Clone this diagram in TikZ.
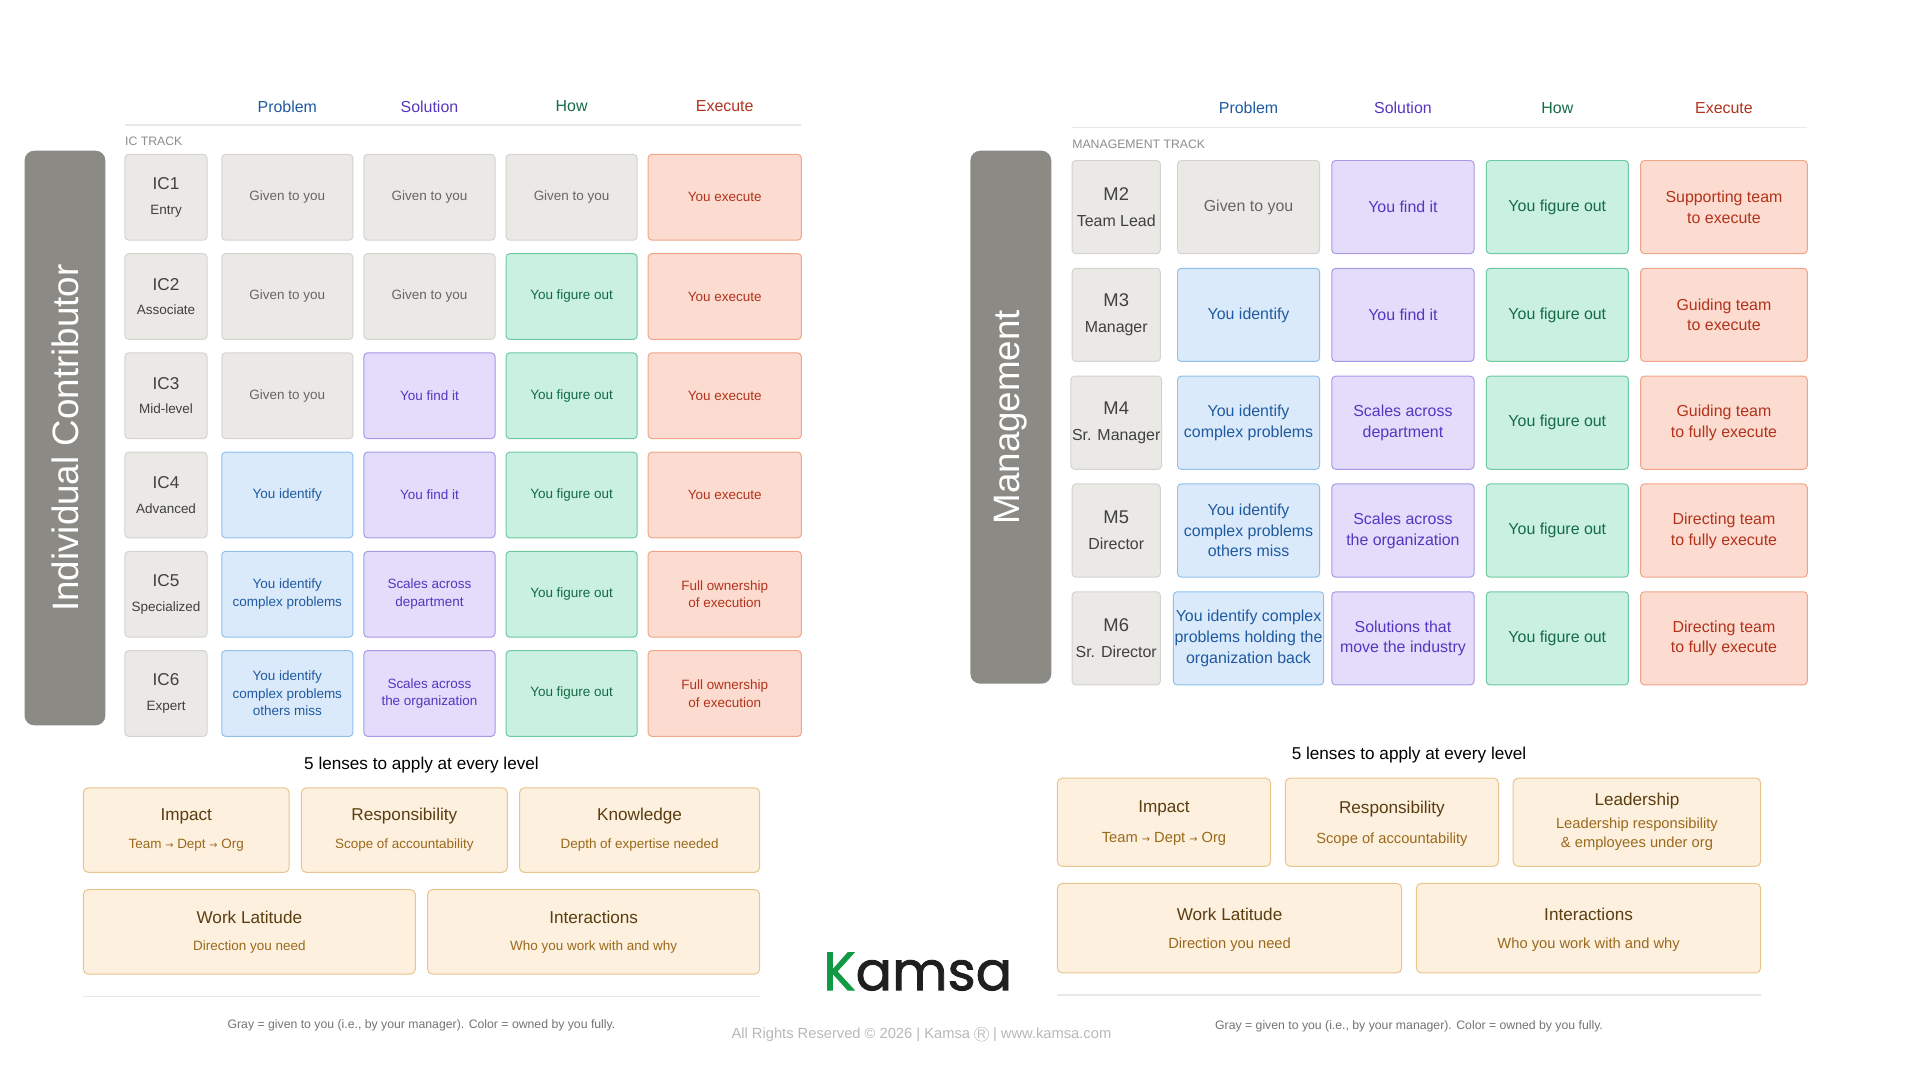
\documentclass[tikz,border=0pt]{standalone}
\usepackage{fontspec}
\setmainfont{Liberation Sans}
\newfontfamily\logofont{Poppins}[FakeBold=1.5]
\newfontfamily\symfont{DejaVu Sans}
\usetikzlibrary{positioning}
\definecolor{barC}{HTML}{8B8A85}
\definecolor{gFill}{HTML}{EBE9E5}\definecolor{gLine}{HTML}{D5D3CF}\definecolor{gText}{HTML}{666666}
\definecolor{bFill}{HTML}{DBEAFB}\definecolor{bLine}{HTML}{8FC0EC}\definecolor{bText}{HTML}{1F5AA0}
\definecolor{pFill}{HTML}{E3DCFB}\definecolor{pLine}{HTML}{A898E6}\definecolor{pText}{HTML}{5536C0}
\definecolor{tFill}{HTML}{C9F0E0}\definecolor{tLine}{HTML}{6CC9A0}\definecolor{tText}{HTML}{146B45}
\definecolor{rFill}{HTML}{FCDCD0}\definecolor{rLine}{HTML}{F0A488}\definecolor{rText}{HTML}{B3321C}
\definecolor{lFill}{HTML}{FDF0DF}\definecolor{lLine}{HTML}{E8C48F}\definecolor{lHead}{HTML}{5A3D10}\definecolor{lSub}{HTML}{9A6A1C}
\newcommand{\fs}[1]{\fontsize{#1}{\the\dimexpr #1pt*13/10\relax}\selectfont}
\newcommand{\arr}{{\symfont\fs{8}→}}
\tikzset{
  cell/.style={draw, rounded corners=3pt, align=center, inner sep=1pt, line width=0.8pt},
  G/.style={cell, fill=gFill, draw=gLine, text=gText},
  B/.style={cell, fill=bFill, draw=bLine, text=bText},
  P/.style={cell, fill=pFill, draw=pLine, text=pText},
  T/.style={cell, fill=tFill, draw=tLine, text=tText},
  R/.style={cell, fill=rFill, draw=rLine, text=rText},
  lvl/.style={cell, fill=gFill, draw=gLine, text=black!75},
  bar/.style={fill=barC, rounded corners=8pt},
  lens/.style={draw=lLine, fill=lFill, rounded corners=4pt, line width=0.8pt},
  head/.style={font=\fs{13}},
  track/.style={font=\fs{10}, text=black!45, anchor=west, inner sep=0pt},
  note/.style={font=\fs{10}, text=black!55}
}
\begin{document}
\begin{tikzpicture}[x=1pt,y=-1pt]
\useasboundingbox (0,0) rectangle (1567,882);
% ---- IC side
\node[head, text=bText] (icP) at (234.5,87) {Problem};
\node[head, text=pText] (icS) at (350.5,87) {Solution};
\node[head, text=tText] (icH) at (466.5,87) {How};
\node[head, text=rText] (icE) at (591.5,87) {Execute};
\draw[gFill, line width=1pt] (102,102) -- (654,102);
\node[track] (icT) at (102,115) {IC TRACK};
\fill[bar] (20,123) rectangle (86,592);
\node[rotate=90, text=white, font=\fs{30}] (icBar) at (53,357.5) {Individual Contributor};
\foreach \i/\sub/\sa/\ta/\sb/\tb/\sc/\tc/\sd/\td in {
 1/Entry/G/Given to you/G/Given to you/G/Given to you/R/You execute,
 2/Associate/G/Given to you/G/Given to you/T/You figure out/R/You execute,
 3/Mid-level/G/Given to you/P/You find it/T/You figure out/R/You execute,
 4/Advanced/B/You identify/P/You find it/T/You figure out/R/You execute,
 5/Specialized/B/You identify\\complex problems/P/Scales across\\department/T/You figure out/R/Full ownership\\of execution,
 6/Expert/B/You identify\\complex problems\\others miss/P/Scales across\\the organization/T/You figure out/R/Full ownership\\of execution}{
  \pgfmathsetmacro\yc{161+81*(\i-1)}
  \node[lvl, minimum width=67pt, minimum height=70pt] (ic\i) at (135.5,\yc) {{\fs{14}IC\i}\\[8pt]{\fs{11}\sub}};
  \node[\sa, minimum width=107pt, minimum height=70pt, font=\fs{11}] (ic\i a) at (234.5,\yc) {\ta};
  \node[\sb, minimum width=107pt, minimum height=70pt, font=\fs{11}] (ic\i b) at (350.5,\yc) {\tb};
  \node[\sc, minimum width=107pt, minimum height=70pt, font=\fs{11}] (ic\i c) at (466.5,\yc) {\tc};
  \node[\sd, minimum width=125pt, minimum height=70pt, font=\fs{11}] (ic\i d) at (591.5,\yc) {\td};
}
\node[font=\fs{14}] (icLT) at (344,624) {5 lenses to apply at every level};
\foreach \n/\xa/\xb/\ya/\yb/\h/\s in {
 1/68/236/643/712/Impact/Team \arr{} Dept \arr{} Org,
 2/246/414/643/712/Responsibility/Scope of accountability,
 3/424/620/643/712/Knowledge/Depth of expertise needed,
 4/68/339/726/795/Work Latitude/Direction you need,
 5/349/620/726/795/Interactions/Who you work with and why}{
  \draw[lens] (\xa,\ya) rectangle (\xb,\yb);
  \node[text=lHead, font=\fs{14}] (icL\n) at ({(\xa+\xb)/2},{\ya+23}) {\h};
  \node[text=lSub, font=\fs{11}] (icS\n) at ({(\xa+\xb)/2},{\ya+47}) {\s};
}
\draw[gFill, line width=1pt] (68,813) -- (620,813);
\node[note] (icN) at (344,837) {Gray = given to you (i.e., by your manager). Color = owned by you fully.};
% ---- Management side
\node[head, text=bText] (mP) at (1019,88) {Problem};
\node[head, text=pText] (mS) at (1145,88) {Solution};
\node[head, text=tText] (mH) at (1271,88) {How};
\node[head, text=rText] (mE) at (1407,88) {Execute};
\draw[gFill, line width=1pt] (875,104) -- (1475,104);
\node[track] (mT) at (875,118) {MANAGEMENT TRACK};
\fill[bar] (792,123) rectangle (858,558);
\node[rotate=90, text=white, font=\fs{30}] (mBar) at (825,340.5) {Management};
\foreach \i/\sub/\sa/\ta/\sb/\tb/\sc/\tc/\sd/\td in {
 2/Team Lead/G/Given to you/P/You find it/T/You figure out/R/Supporting team\\to execute,
 3/Manager/B/You identify/P/You find it/T/You figure out/R/Guiding team\\to execute,
 4/Sr. Manager/B/You identify\\complex problems/P/Scales across\\department/T/You figure out/R/Guiding team\\to fully execute,
 5/Director/B/You identify\\complex problems\\others miss/P/Scales across\\the organization/T/You figure out/R/Directing team\\to fully execute,
 6/Sr. Director/B/You identify complex\\problems holding the\\organization back/P/Solutions that\\move the industry/T/You figure out/R/Directing team\\to fully execute}{
  \pgfmathsetmacro\yc{169+88*(\i-2)}
  \node[lvl, minimum width=72pt, minimum height=76pt] (m\i) at (911,\yc) {{\fs{15}M\i}\\[9pt]{\fs{13}\sub}};
  \node[\sa, minimum width=116pt, minimum height=76pt, font=\fs{13}] (m\i a) at (1019,\yc) {\ta};
  \node[\sb, minimum width=116pt, minimum height=76pt, font=\fs{13}] (m\i b) at (1145,\yc) {\tb};
  \node[\sc, minimum width=116pt, minimum height=76pt, font=\fs{13}] (m\i c) at (1271,\yc) {\tc};
  \node[\sd, minimum width=136pt, minimum height=76pt, font=\fs{13}] (m\i d) at (1407,\yc) {\td};
}
\node[font=\fs{14}] (mLT) at (1150,616) {5 lenses to apply at every level};
\foreach \n/\xa/\xb/\ya/\yb/\h/\s in {
 1/863/1037/635/707/Impact/Team \arr{} Dept \arr{} Org,
 2/1049/1223/635/707/Responsibility/Scope of accountability,
 4/863/1144/721/794/Work Latitude/Direction you need,
 5/1156/1437/721/794/Interactions/Who you work with and why}{
  \draw[lens] (\xa,\ya) rectangle (\xb,\yb);
  \node[text=lHead, font=\fs{14}] (mL\n) at ({(\xa+\xb)/2},{\ya+25}) {\h};
  \node[text=lSub, font=\fs{12}] (mS\n) at ({(\xa+\xb)/2},{\ya+50}) {\s};
}
\draw[lens] (1235,635) rectangle (1437,707);
\node[text=lHead, font=\fs{14}] (mL3) at (1336,654) {Leadership};
\node[text=lSub, font=\fs{12}, align=center] (mS3) at (1336,681) {Leadership responsibility\\\& employees under org};
\draw[gFill, line width=1pt] (863,812) -- (1437,812);
\node[note] (mN) at (1150,838) {Gray = given to you (i.e., by your manager). Color = owned by you fully.};
% ---- logo and footer
\node[font=\logofont\fs{44}, text=black!88] (logo) at (749,793) {{\color[HTML]{119944}K}amsa};
\node[font=\fs{12}, text=black!28] (copy) at (752,844) {All Rights Reserved © 2026 | Kamsa \tikz[baseline=-3.5pt]\node[draw, circle, inner sep=0.6pt, font=\fs{10}] (reg) {R}; | www.kamsa.com};
\end{tikzpicture}
\end{document}
